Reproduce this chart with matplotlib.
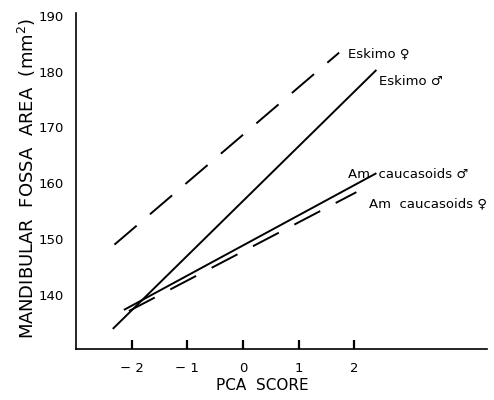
import numpy as np
import matplotlib
matplotlib.use("Agg")
import matplotlib.pyplot as plt

# PCA score endpoints and fossa area (mm^2)
esk_m_x = [-2.34, 2.40]
esk_m_y = [133.9, 180.3]
esk_f_x = [-2.31, 1.73]
esk_f_y = [149.0, 183.4]
cau_m_x = [-2.14, 2.40]
cau_m_y = [137.3, 161.8]
cau_f_x = [-2.05, 2.04]
cau_f_y = [137.1, 158.4]

x_ticks = [-2, -1, 0, 1, 2]
x_tick_labels = ["\u2212 2", "\u2212 1", "0", "1", "2"]
y_ticks = [140, 150, 160, 170, 180, 190]

plt.rcParams["font.family"] = ["DejaVu Sans"]

fig = plt.figure(figsize=(4.94, 4.0), dpi=100)
ax = fig.add_axes([0.154, 0.1275, 0.832, 0.84])

lw = 1.4
ax.plot(esk_m_x, esk_m_y, color="black", lw=lw, solid_capstyle="butt")
ax.plot(esk_f_x, esk_f_y, color="black", lw=lw, dashes=(15, 9))
ax.plot(cau_m_x, cau_m_y, color="black", lw=lw, solid_capstyle="butt")
ax.plot(cau_f_x, cau_f_y, color="black", lw=lw, dashes=(15, 9))

ax.set_xlim(-3.0, 4.39)
ax.set_ylim(130.3, 190.5)

for s in ["top", "right"]:
    ax.spines[s].set_visible(False)
for s in ["left", "bottom"]:
    ax.spines[s].set_linewidth(1.2)

ax.set_xticks(x_ticks)
ax.set_xticklabels(x_tick_labels)
ax.set_yticks(y_ticks)
ax.tick_params(axis="y", length=0, pad=9, labelsize=9.5)
ax.tick_params(axis="x", direction="in", length=6.5, width=1.6, color="black",
               pad=9, labelsize=9.5)

ax.text(1.89, 183.2, "Eskimo \u2640", fontsize=9.5, va="center", ha="left")
ax.text(2.45, 178.2, "Eskimo \u2642", fontsize=9.5, va="center", ha="left")
ax.text(1.89, 161.5, "Am  caucasoids \u2642", fontsize=9.5, va="center", ha="left")
ax.text(2.26, 156.3, "Am  caucasoids \u2640", fontsize=9.5, va="center", ha="left")

fig.text(262 / 494, 1 - 386 / 400, "PCA  SCORE", ha="center", va="center", fontsize=11)
fig.text(27 / 494, 1 - 178 / 400, "MANDIBULAR  FOSSA  AREA  (mm$^2$)",
         rotation=90, ha="center", va="center", fontsize=13)

fig.savefig("out.png", dpi=100)
